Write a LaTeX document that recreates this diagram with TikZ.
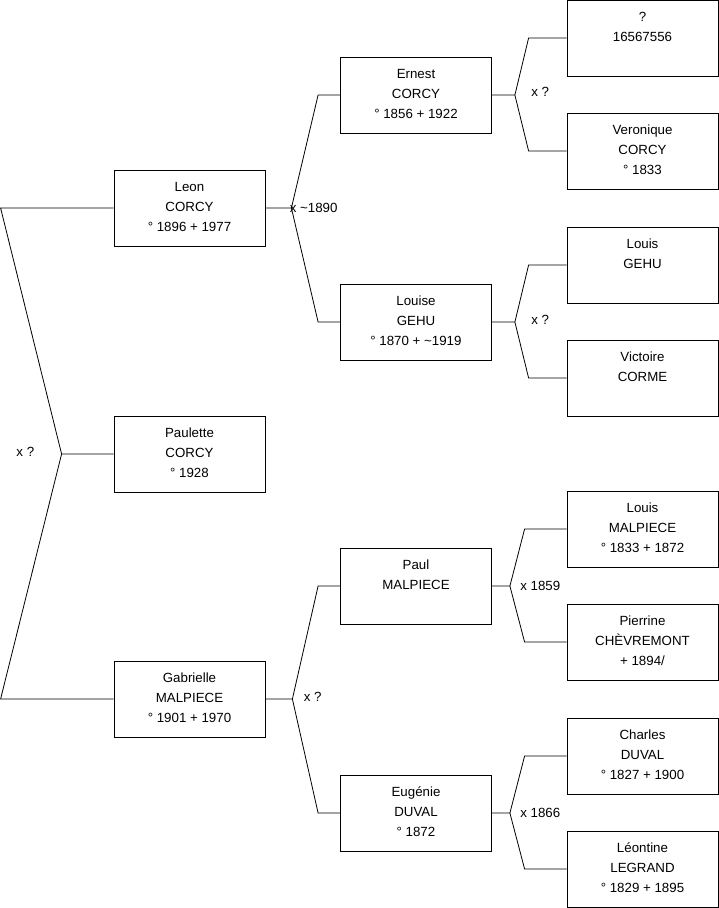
\documentclass[tikz,border=0pt]{standalone}
\usepackage{fontspec}
\setmainfont{Liberation Sans}
\usetikzlibrary{positioning}

\begin{document}
\begin{tikzpicture}[
  x=1pt,y=-1pt,line width=0.8pt,
  personne/.style={draw,minimum width=151pt,minimum height=76pt,inner sep=0pt},
  nom/.style={anchor=north,align=center,inner sep=0pt,yshift=-12pt,
              font=\fontsize{13.3}{20}\selectfont},
  mariage/.style={inner sep=0pt,font=\fontsize{13.3}{16}\selectfont},
]
  \useasboundingbox (0,0) rectangle (719,908);

  \node[personne] (leon)      at (189.5,208) {};
  \node[personne] (paulette)  at (189.5,454) {};
  \node[personne] (gabrielle) at (189.5,699) {};
  \node[personne] (ernest)    at (416,95)    {};
  \node[personne] (louise)    at (416,322)   {};
  \node[personne] (paul)      at (416,586)   {};
  \node[personne] (eugenie)   at (416,813)   {};
  \node[personne] (inconnu)   at (642.5,38)  {};
  \node[personne] (veronique) at (642.5,151) {};
  \node[personne] (louisg)    at (642.5,265) {};
  \node[personne] (victoire)  at (642.5,378) {};
  \node[personne] (louism)    at (642.5,529) {};
  \node[personne] (pierrine)  at (642.5,642) {};
  \node[personne] (charles)   at (642.5,756) {};
  \node[personne] (leontine)  at (642.5,869) {};

  \node[nom] (leon-t)      at (leon.north)      {Leon\\CORCY\\° 1896 + 1977};
  \node[nom] (paulette-t)  at (paulette.north)  {Paulette\\CORCY\\° 1928};
  \node[nom] (gabrielle-t) at (gabrielle.north) {Gabrielle\\MALPIECE\\° 1901 + 1970};
  \node[nom] (ernest-t)    at (ernest.north)    {Ernest\\CORCY\\° 1856 + 1922};
  \node[nom] (louise-t)    at (louise.north)    {Louise\\GEHU\\° 1870 + \textasciitilde 1919};
  \node[nom] (paul-t)      at (paul.north)      {Paul\\MALPIECE};
  \node[nom] (eugenie-t)   at (eugenie.north)   {Eugénie\\DUVAL\\° 1872};
  \node[nom] (inconnu-t)   at (inconnu.north)   {?\\16567556};
  \node[nom] (veronique-t) at (veronique.north) {Veronique\\CORCY\\° 1833};
  \node[nom] (louisg-t)    at (louisg.north)    {Louis\\GEHU};
  \node[nom] (victoire-t)  at (victoire.north)  {Victoire\\CORME};
  \node[nom] (louism-t)    at (louism.north)    {Louis\\MALPIECE\\° 1833 + 1872};
  \node[nom] (pierrine-t)  at (pierrine.north)  {Pierrine\\CHÈVREMONT\\+ 1894/};
  \node[nom] (charles-t)   at (charles.north)   {Charles\\DUVAL\\° 1827 + 1900};
  \node[nom] (leontine-t)  at (leontine.north)  {Léontine\\LEGRAND\\° 1829 + 1895};

  \coordinate[left=52pt of paulette]   (m0);
  \coordinate[right=26pt of leon]      (m1);
  \coordinate[right=27pt of gabrielle] (m2);
  \coordinate[right=23pt of ernest]    (m3);
  \coordinate[right=23pt of louise]    (m4);
  \coordinate[right=18pt of paul]      (m5);
  \coordinate[right=18pt of eugenie]   (m6);

  \draw (m0) -- (paulette.west)
        (leon.west) -- ([xshift=-113pt]leon.west) -- (m0)
        -- ([xshift=-113pt]gabrielle.west) -- (gabrielle.west);
  \draw (leon.east) -- (m1)
        (ernest.west) -- ([xshift=-22pt]ernest.west) -- (m1)
        -- ([xshift=-22pt]louise.west) -- (louise.west);
  \draw (gabrielle.east) -- (m2)
        (paul.west) -- ([xshift=-22pt]paul.west) -- (m2)
        -- ([xshift=-22pt]eugenie.west) -- (eugenie.west);
  \draw (ernest.east) -- (m3)
        (inconnu.west) -- ([xshift=-38pt]inconnu.west) -- (m3)
        -- ([xshift=-38pt]veronique.west) -- (veronique.west);
  \draw (louise.east) -- (m4)
        (louisg.west) -- ([xshift=-38pt]louisg.west) -- (m4)
        -- ([xshift=-38pt]victoire.west) -- (victoire.west);
  \draw (paul.east) -- (m5)
        (louism.west) -- ([xshift=-42pt]louism.west) -- (m5)
        -- ([xshift=-42pt]pierrine.west) -- (pierrine.west);
  \draw (eugenie.east) -- (m6)
        (charles.west) -- ([xshift=-42pt]charles.west) -- (m6)
        -- ([xshift=-42pt]leontine.west) -- (leontine.west);

  \node[mariage,left=27pt of m0,yshift=2pt]  (x0) {x ?};
  \node[mariage,right=-2pt of m1]            (x1) {x \textasciitilde 1890};
  \node[mariage,right=11pt of m2,yshift=2pt] (x2) {x ?};
  \node[mariage,right=16pt of m3,yshift=3pt] (x3) {x ?};
  \node[mariage,right=16pt of m4,yshift=2pt] (x4) {x ?};
  \node[mariage,right=10pt of m5]            (x5) {x 1859};
  \node[mariage,right=10pt of m6]            (x6) {x 1866};
\end{tikzpicture}
\end{document}
